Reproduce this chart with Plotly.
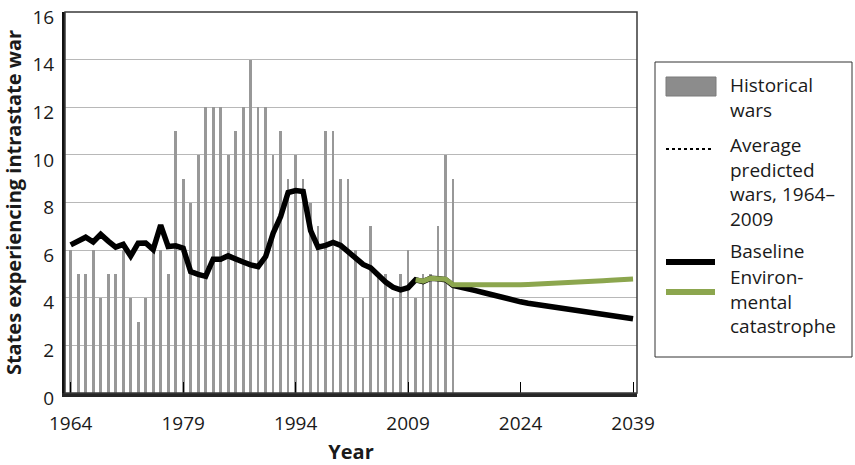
import plotly.graph_objects as go

# ---------------- data ----------------
hist_years = list(range(1964, 2016))
historical_wars = [6, 5, 5, 6, 4, 5, 5, 6, 4, 3,
                   4, 6, 6, 5, 11, 9, 8, 10, 12, 12,
                   12, 10, 11, 12, 14, 12, 12, 10, 11, 9,
                   10, 9, 8, 7, 11, 11, 9, 9, 6, 4,
                   7, 5, 5, 4, 5, 6, 4, 5, 5, 7,
                   10, 9]

baseline_years = list(range(1964, 2040))
baseline = [6.22, 6.38, 6.54, 6.34, 6.66, 6.38, 6.13, 6.24, 5.75, 6.29,
            6.30, 6.02, 7.05, 6.15, 6.18, 6.08, 5.10, 4.98, 4.90, 5.62,
            5.62, 5.76, 5.66, 5.50, 5.38, 5.31, 5.73, 6.71, 7.41, 8.42,
            8.50, 8.46, 6.82, 6.12, 6.20, 6.32, 6.20, 5.95, 5.72, 5.40,
            5.26, 4.95, 4.66, 4.44, 4.33, 4.42, 4.75, 4.68, 4.82, 4.80,
            4.76, 4.52, 4.46, 4.35, 4.30, 4.22, 4.13, 4.06, 3.98, 3.90,
            3.83, 3.77, 3.72, 3.67, 3.63, 3.58, 3.52, 3.47, 3.42, 3.37,
            3.32, 3.28, 3.23, 3.19, 3.15, 3.12]

env_years = list(range(2010, 2040))
environmental = [4.75, 4.70, 4.82, 4.82, 4.78, 4.55, 4.55, 4.50, 4.50, 4.50,
                 4.51, 4.52, 4.53, 4.54, 4.55, 4.56, 4.57, 4.58, 4.60, 4.62,
                 4.63, 4.65, 4.66, 4.68, 4.70, 4.71, 4.73, 4.75, 4.77, 4.79]

x_tick_years = [1964, 1979, 1994, 2009, 2024, 2039]
y_ticks = [0, 2, 4, 6, 8, 10, 12, 14, 16]

legend_texts = {
    "hist": "Historical<br>wars",
    "avg": "Average<br>predicted<br>wars, 1964–<br>2009",
    "base": "Baseline",
    "env": "Environ-<br>mental<br>catastrophe",
}

# ---------------- style ----------------
FONT = "Open Sans"
TEXT = "#1a1a1a"
BAR_COLOR = "#989898"
GREEN = "#8ca64e"
W, H = 855, 465
PL, PR, PT, PB = 65, 637, 12, 393


def px(x):
    return (x - PL) / (PR - PL)


def py(y):
    return (PB - y) / (PB - PT)


fig = go.Figure()
fig.add_trace(go.Bar(x=hist_years, y=historical_wars, width=0.36,
                     marker=dict(color=BAR_COLOR, line=dict(width=0)),
                     name="Historical wars"))
fig.add_trace(go.Scatter(x=baseline_years, y=baseline, mode="lines",
                         line=dict(color="#000000", width=5.5),
                         name="Baseline"))
fig.add_trace(go.Scatter(x=env_years, y=environmental, mode="lines",
                         line=dict(color=GREEN, width=5),
                         name="Environmental catastrophe"))

shapes = [
    # plot frame (top/right)
    dict(type="rect", xref="paper", yref="paper", x0=0, x1=1, y0=0, y1=1,
         line=dict(color="#3a3a3a", width=1.5), layer="above"),
    # legend box
    dict(type="rect", xref="paper", yref="paper", x0=px(655), x1=px(852),
         y0=py(357), y1=py(62), line=dict(color="#333333", width=1)),
    dict(type="rect", xref="paper", yref="paper", x0=px(666), x1=px(716),
         y0=py(96), y1=py(77), fillcolor="#8c8c8c",
         line=dict(color="#7a7a7a", width=1)),
    dict(type="line", xref="paper", yref="paper", x0=px(666), x1=px(714),
         y0=py(149), y1=py(149), line=dict(color="#000000", width=2, dash="dot")),
    dict(type="line", xref="paper", yref="paper", x0=px(666), x1=px(715),
         y0=py(262), y1=py(262), line=dict(color="#000000", width=6)),
    dict(type="line", xref="paper", yref="paper", x0=px(666), x1=px(715),
         y0=py(292), y1=py(292), line=dict(color=GREEN, width=6)),
]

# legend text block centres (pixel y)
block_y = {"hist": 98, "avg": 182, "base": 251, "env": 301}
annotations = []
for key, txt in legend_texts.items():
    annotations.append(dict(x=px(728), y=py(block_y[key]), xref="paper", yref="paper",
                            text=txt, showarrow=False, xanchor="left",
                            yanchor="middle", align="left",
                            font=dict(family=FONT, size=19, color=TEXT)))

fig.update_layout(
    width=W, height=H,
    margin=dict(l=PL, r=W - PR, t=PT, b=H - PB, autoexpand=False),
    paper_bgcolor="white", plot_bgcolor="white",
    showlegend=False, bargap=0,
    font=dict(family=FONT, size=19, color=TEXT),
    shapes=shapes, annotations=annotations,
    xaxis=dict(range=[1963.24, 2039.53], tickmode="array", tickvals=x_tick_years,
               ticktext=[str(v) for v in x_tick_years], automargin=False,
               ticks="inside", ticklen=11, tickwidth=1, tickcolor="#000000",
               showgrid=False, showline=True, linewidth=4, linecolor="#262626",
               zeroline=False, ticklabelstandoff=10, ticklabeloverflow="allow",
               title=dict(text="<b>Year</b>", standoff=12,
                          font=dict(family=FONT, size=20, color=TEXT))),
    yaxis=dict(range=[0, 16], tickmode="array", tickvals=y_ticks,
               ticktext=[str(v) for v in y_ticks],
               ticks="", showgrid=True, gridcolor="#b8b8b8", gridwidth=1.4,
               showline=True, linewidth=3, linecolor="#111111", zeroline=False,
               automargin=False, ticklabelstandoff=4, ticklabelshift=5,
               ticklabeloverflow="allow",
               title=dict(text="<b>States experiencing intrastate war</b>",
                          standoff=8,
                          font=dict(family=FONT, size=20, color=TEXT))),
)

fig.write_html("out.html",
               config={"displayModeBar": False},
               post_script="document.body.style.margin='0';"
                           "document.body.style.padding='0';")
